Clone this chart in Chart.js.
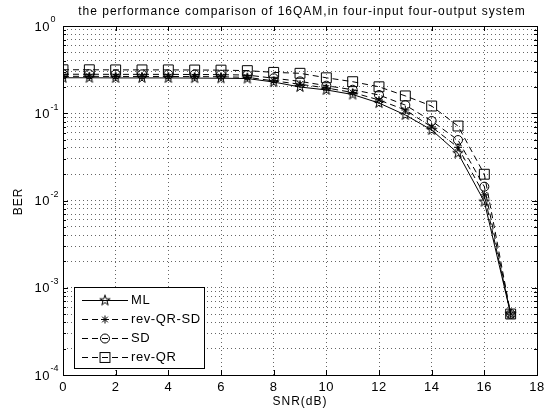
<!DOCTYPE html>
<html>
<head>
<meta charset="utf-8">
<script src="https://cdn.jsdelivr.net/npm/chart.js@4.4.1/dist/chart.umd.min.js"></script>
<style>
  html, body { margin: 0; padding: 0; background: #fff; }
  canvas { display: block; }
</style>
</head>
<body>
<canvas id="berChart" width="547" height="414"></canvas>
<script>
// ---------- data ----------
const snr = [0, 1, 2, 3, 4, 5, 6, 7, 8, 9, 10, 11, 12, 13, 14, 15, 16, 17];
const berML = [0.255, 0.255, 0.254, 0.254, 0.254, 0.253, 0.252, 0.25, 0.228, 0.2, 0.185, 0.164, 0.131, 0.0955, 0.0643, 0.0348, 0.0097, 0.0005];
const berRevQRSD = [0.265, 0.265, 0.264, 0.264, 0.264, 0.263, 0.262, 0.258, 0.235, 0.215, 0.195, 0.173, 0.142, 0.109, 0.0696, 0.0407, 0.0116, 0.0005];
const berSD = [0.28, 0.28, 0.279, 0.279, 0.279, 0.278, 0.277, 0.274, 0.252, 0.232, 0.207, 0.186, 0.162, 0.124, 0.0815, 0.0493, 0.0144, 0.0005];
const berRevQR = [0.315, 0.315, 0.314, 0.314, 0.314, 0.313, 0.312, 0.308, 0.294, 0.287, 0.255, 0.23, 0.201, 0.158, 0.121, 0.0714, 0.02, 0.0005];
const seriesNames = ['ML', 'rev-QR-SD', 'SD', 'rev-QR'];
const xTicks = [0, 2, 4, 6, 8, 10, 12, 14, 16, 18];
const yDecades = [0, -1, -2, -3, -4];

const titleText = 'the performance comparison of 16QAM,in four-input four-output system';
const FONT = '"Liberation Sans", Arial, sans-serif';

// ---------- pentagram marker (matlab 'p') ----------
function makePentagram(r) {
  const c = document.createElement('canvas');
  const s = Math.ceil(r * 2 + 3);
  c.width = s; c.height = s;
  const g = c.getContext('2d');
  const cx = s / 2, cy = s / 2, ri = r * 0.382;
  g.beginPath();
  for (let i = 0; i < 10; i++) {
    const rad = (i % 2 === 0) ? r : ri;
    const a = -Math.PI / 2 + i * Math.PI / 5;
    const px = cx + rad * Math.cos(a), py = cy + rad * Math.sin(a);
    if (i === 0) g.moveTo(px, py); else g.lineTo(px, py);
  }
  g.closePath();
  g.strokeStyle = '#000';
  g.lineWidth = 1;
  g.stroke();
  return c;
}
const pentagram = makePentagram(5.5);

function toPoints(values) {
  return snr.map((x, i) => ({ x, y: values[i] }));
}

function makeDataset(label, values, pointStyle, radius, dash) {
  return {
    label,
    data: toPoints(values),
    borderColor: '#000',
    backgroundColor: 'rgba(0,0,0,0)',
    borderWidth: 1,
    borderDash: dash,
    pointStyle,
    pointRadius: radius,
    pointBorderColor: '#000',
    pointBackgroundColor: 'rgba(0,0,0,0)',
    pointBorderWidth: 1,
    tension: 0
  };
}

const datasets = [
  makeDataset(seriesNames[0], berML, pentagram, 5, []),
  makeDataset(seriesNames[1], berRevQRSD, 'star', 4, [6, 4]),
  makeDataset(seriesNames[2], berSD, 'circle', 4.5, [6, 4]),
  makeDataset(seriesNames[3], berRevQR, 'rect', 7, [6, 4])
];

// ---------- matlab style frame, labels and legend ----------
function drawMarker(ctx, style, radius, x, y) {
  ctx.save();
  ctx.strokeStyle = '#000';
  ctx.lineWidth = 1;
  ctx.setLineDash([]);
  if (style instanceof HTMLCanvasElement) {
    ctx.drawImage(style, x - style.width / 2, y - style.height / 2);
  } else if (style === 'circle') {
    ctx.beginPath(); ctx.arc(x, y, radius, 0, Math.PI * 2); ctx.stroke();
  } else if (style === 'rect') {
    const s = radius * Math.SQRT1_2;
    ctx.strokeRect(x - s, y - s, s * 2, s * 2);
  } else if (style === 'star') {
    ctx.beginPath();
    for (let k = 0; k < 4; k++) {
      const a = k * Math.PI / 4;
      ctx.moveTo(x - radius * Math.cos(a), y - radius * Math.sin(a));
      ctx.lineTo(x + radius * Math.cos(a), y + radius * Math.sin(a));
    }
    ctx.stroke();
  }
  ctx.restore();
}

function spacing(ctx, px) {
  if ('letterSpacing' in ctx) ctx.letterSpacing = px + 'px';
}

const matlabFrame = {
  id: 'matlabFrame',
  afterDraw(chart) {
    const ctx = chart.ctx;
    const area = chart.chartArea;
    const xs = chart.scales.x, ys = chart.scales.y;
    ctx.save();
    ctx.fillStyle = '#000';
    ctx.strokeStyle = '#000';
    ctx.lineWidth = 1;

    // box
    ctx.strokeRect(Math.round(area.left) + 0.5, Math.round(area.top) + 0.5,
      Math.round(area.right - area.left), Math.round(area.bottom - area.top));

    // ticks inside the box
    ctx.beginPath();
    xTicks.forEach(v => {
      const px = Math.round(xs.getPixelForValue(v)) + 0.5;
      ctx.moveTo(px, area.bottom); ctx.lineTo(px, area.bottom - 5);
      ctx.moveTo(px, area.top); ctx.lineTo(px, area.top + 5);
    });
    ys.ticks.forEach(t => {
      const py = Math.round(ys.getPixelForValue(t.value)) + 0.5;
      const len = t.major ? 5 : 3;
      ctx.moveTo(area.left, py); ctx.lineTo(area.left + len, py);
      ctx.moveTo(area.right, py); ctx.lineTo(area.right - len, py);
    });
    ctx.stroke();

    // x tick labels
    ctx.font = '13px ' + FONT;
    ctx.textAlign = 'center';
    ctx.textBaseline = 'middle';
    spacing(ctx, 0.5);
    xTicks.forEach(v => ctx.fillText(String(v), xs.getPixelForValue(v), 387));

    // y tick labels 10^e
    yDecades.forEach(e => {
      const py = ys.getPixelForValue(Math.pow(10, e));
      ctx.font = '13px ' + FONT;
      spacing(ctx, 0.5);
      ctx.textAlign = 'right';
      ctx.fillText('10', 50, py + 1);
      ctx.font = '9px ' + FONT;
      spacing(ctx, 0);
      ctx.textAlign = 'left';
      ctx.fillText(e === 0 ? '0' : '-' + Math.abs(e), 50.5, py - 6);
    });

    // titles
    ctx.textAlign = 'center';
    ctx.font = '12px ' + FONT;
    spacing(ctx, 1);
    ctx.fillText(titleText, (area.left + area.right) / 2 + 2, 12);
    ctx.fillText('SNR(dB)', (area.left + area.right) / 2, 402);
    ctx.save();
    ctx.translate(19, (area.top + area.bottom) / 2 + 1);
    ctx.rotate(-Math.PI / 2);
    ctx.fillText('BER', 0, 0);
    ctx.restore();

    // legend
    const lx = 74, ly = 287, lw = 130, lh = 81;
    ctx.fillStyle = '#fff';
    ctx.fillRect(lx, ly, lw, lh);
    ctx.strokeRect(lx + 0.5, ly + 0.5, lw, lh);
    ctx.fillStyle = '#000';
    ctx.font = '13px ' + FONT;
    spacing(ctx, 0.6);
    ctx.textAlign = 'left';
    chart.data.datasets.forEach((ds, i) => {
      const y = Math.round(ly + 12.5 + i * 19.3) + 0.5;
      ctx.save();
      ctx.setLineDash(ds.borderDash);
      ctx.beginPath();
      ctx.moveTo(82, y); ctx.lineTo(128, y);
      ctx.stroke();
      ctx.restore();
      drawMarker(ctx, ds.pointStyle, ds.pointRadius, 105, y);
      ctx.fillText(ds.label, 131, y);
    });
    ctx.restore();
  }
};

// ---------- chart ----------
const yTickValues = [];
yDecades.slice().reverse().forEach(e => {
  for (let m = 1; m <= 9; m++) {
    const v = m * Math.pow(10, e);
    if (v <= 1.0000001) yTickValues.push({ value: v, major: m === 1 });
  }
});

const gridStyle = { color: 'rgba(0,0,0,0.6)', lineWidth: 1, drawTicks: false };
const borderStyle = { display: false, dash: [1, 3] };

new Chart(document.getElementById('berChart').getContext('2d'), {
  type: 'line',
  data: { datasets },
  options: {
    responsive: false,
    animation: false,
    devicePixelRatio: 1,
    layout: { padding: { left: 63, top: 26, right: 10, bottom: 39 } },
    plugins: {
      legend: { display: false },
      title: { display: false },
      tooltip: { enabled: false }
    },
    scales: {
      x: {
        type: 'linear',
        min: 0,
        max: 18,
        afterBuildTicks: (scale) => { scale.ticks = xTicks.map(v => ({ value: v })); },
        ticks: { display: false },
        grid: gridStyle,
        border: borderStyle
      },
      y: {
        type: 'logarithmic',
        min: 1e-4,
        max: 1,
        afterBuildTicks: (scale) => { scale.ticks = yTickValues.map(t => ({ ...t })); },
        ticks: { display: false },
        grid: gridStyle,
        border: borderStyle
      }
    }
  },
  plugins: [matlabFrame]
});
</script>
</body>
</html>
